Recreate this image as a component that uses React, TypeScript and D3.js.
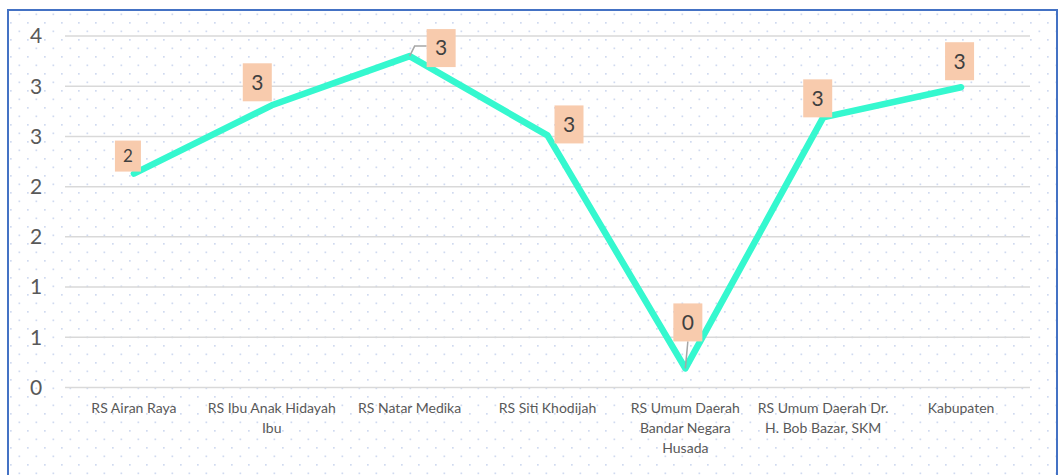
import React from 'react';
import * as d3 from 'd3';

// data
const categories = [
  'RS Airan Raya',
  'RS Ibu Anak Hidayah\nIbu',
  'RS Natar Medika',
  'RS Siti Khodijah',
  'RS Umum Daerah\nBandar Negara\nHusada',
  'RS Umum Daerah Dr.\nH. Bob Bazar, SKM',
  'Kabupaten',
];
const values = [2.13, 2.81, 3.3, 2.51, 0.19, 2.69, 2.99];
const yTicks = [0, 0.5, 1, 1.5, 2, 2.5, 3, 3.5];

// label box placement relative to its point (layout, not data)
const labelOffsets = [
  { dx: -19, dy: -33, w: 26, h: 31, fs: 17, leader: false },
  { dx: -29, dy: -42, w: 29, h: 38, fs: 21, leader: false },
  { dx: 17, dy: -27, w: 29, h: 38, fs: 21, leader: true },
  { dx: 7, dy: -30, w: 29, h: 38, fs: 21, leader: false },
  { dx: -12, dy: -65, w: 29, h: 38, fs: 21, leader: true },
  { dx: -20, dy: -38, w: 29, h: 38, fs: 21, leader: false },
  { dx: -16, dy: -45, w: 29, h: 38, fs: 21, leader: false },
];

const W = 1060, H = 475;
const font = 'Lato, Carlito, "Open Sans", sans-serif';

export default function App() {
  const x = d3.scaleBand().domain(categories).range([65, 1030]);
  const y = d3.scaleLinear().domain([0, 3.5]).range([387.5, 36]);
  const cx = (c: string) => (x(c) as number) + x.bandwidth() / 2;

  const line = d3.line<number>()
    .x((d, i) => cx(categories[i]))
    .y(d => y(d));

  return (
    <svg width={W} height={H} style={{ position: 'absolute', left: 0, top: 0, background: '#fff' }}>
      <defs>
        <pattern id="dots" width={17} height={17} patternUnits="userSpaceOnUse" x={10} y={5}>
          <rect x={0} y={0} width={1.7} height={1.7} fill="#d0daf0" />
          <rect x={8.5} y={8.5} width={1.7} height={1.7} fill="#d0daf0" />
        </pattern>
      </defs>
      <rect x={8} y={10} width={1049} height={H} fill="url(#dots)" stroke="#4472c4" strokeWidth={2} />

      {yTicks.map(t => (
        <g key={t}>
          <line x1={65} x2={1030} y1={y(t)} y2={y(t)} stroke="#d9d9d9" strokeWidth={1.5} />
          <text x={36} y={y(t)} dy="0.35em" textAnchor="middle" fontSize={21} fill="#595959" fontFamily={font}>
            {Math.round(t)}
          </text>
        </g>
      ))}

      {categories.map(c => (
        <text key={c} x={cx(c)} y={413} textAnchor="middle" fontSize={14} fill="#595959" fontFamily={font}>
          {c.split('\n').map((ln, i) => (
            <tspan key={i} x={cx(c)} dy={i === 0 ? 0 : 20}>{ln}</tspan>
          ))}
        </text>
      ))}

      <path d={line(values) || ''} fill="none" stroke="#35f8cf" strokeWidth={6.5} strokeLinejoin="round" strokeLinecap="round" />

      {values.map((v, i) => {
        const px = cx(categories[i]);
        const py = y(v);
        const o = labelOffsets[i];
        const bx = px + o.dx, by = py + o.dy;
        let leader = null;
        if (o.leader) {
          if (o.dx > 0) {
            leader = <polyline points={`${px},${py} ${px + 5},${py - 10} ${bx},${py - 10}`} fill="none" stroke="#a6a6a6" strokeWidth={1.5} />;
          } else {
            leader = <line x1={px} y1={py} x2={bx + o.w / 2} y2={by + o.h} stroke="#a6a6a6" strokeWidth={1.5} />;
          }
        }
        return (
          <g key={i}>
            {leader}
            <rect x={bx} y={by} width={o.w} height={o.h} fill="#f8cbad" />
            <text x={bx + o.w / 2} y={by + o.h / 2} dy="0.35em" textAnchor="middle" fontSize={o.fs} fill="#404040" fontFamily={font}>
              {Math.round(v)}
            </text>
          </g>
        );
      })}
    </svg>
  );
}
